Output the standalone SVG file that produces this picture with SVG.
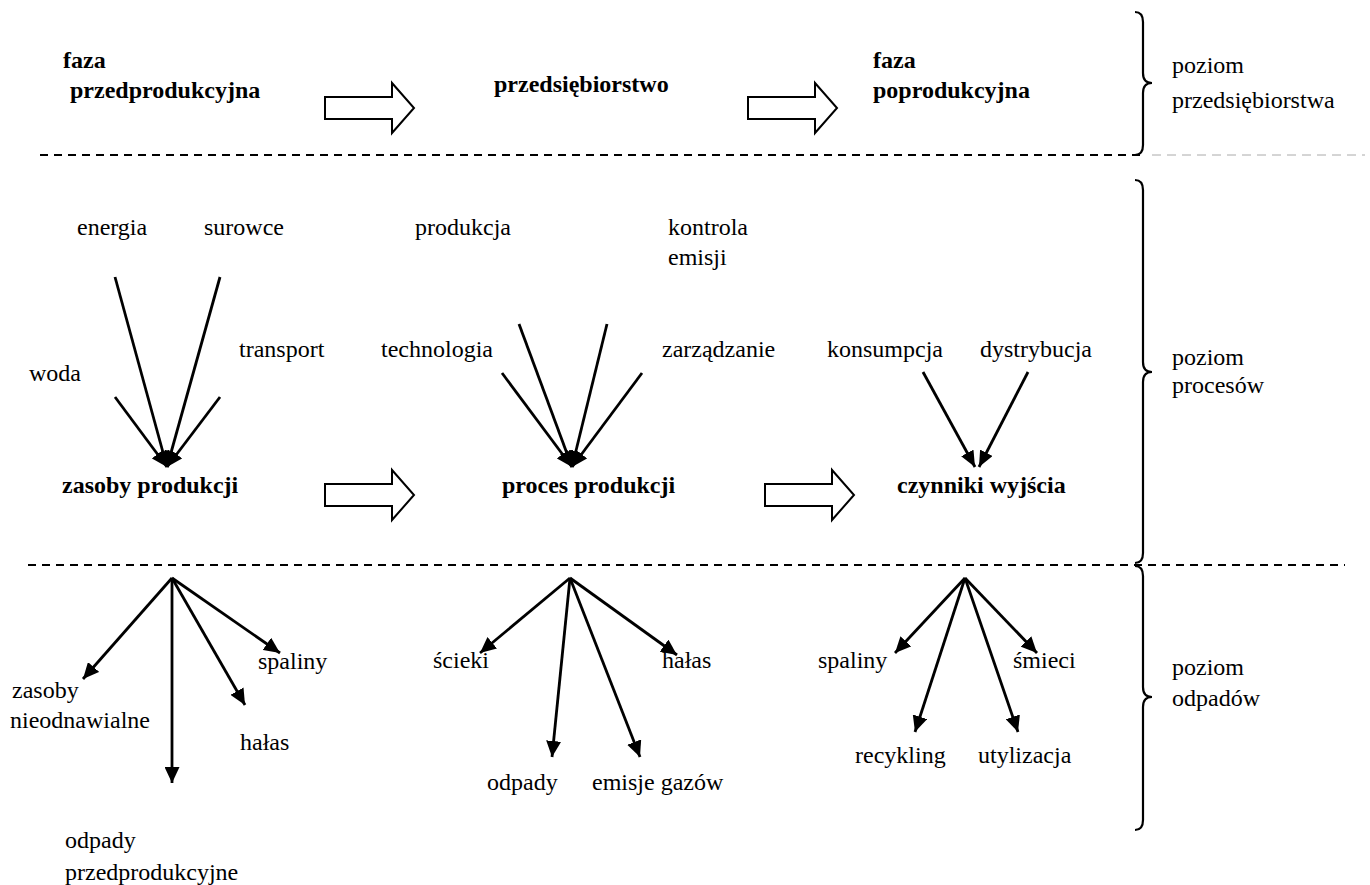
<svg xmlns="http://www.w3.org/2000/svg" width="1370" height="885" viewBox="0 0 1370 885">
<style>
text{font-family:"Liberation Serif","Times New Roman",serif;font-size:24px;fill:#000}
.b{font-weight:bold}
.blk{fill:#fff;stroke:#000;stroke-width:2}
.dash{stroke:#000;stroke-width:2;stroke-dasharray:8 6;fill:none}
.brace{fill:none;stroke:#000;stroke-width:2.2}
.ln{stroke:#000;stroke-width:2.8;fill:none}
</style>
<defs>
<marker id="ah" viewBox="0 0 16 15" refX="16" refY="7.5" markerWidth="16" markerHeight="15" markerUnits="userSpaceOnUse" orient="auto"><path d="M0,0 L16,7.5 L0,15 z" fill="#000"/></marker>
<marker id="ac" viewBox="0 0 16 14" refX="16" refY="7" markerWidth="16" markerHeight="14" markerUnits="userSpaceOnUse" orient="auto"><path d="M0,0 L16,7 L0,14 z" fill="#000"/></marker>
</defs>
<g id="separators">
<line class="dash" x1="40" y1="155" x2="1145" y2="155"/>
<line x1="1152" y1="155" x2="1365" y2="155" stroke="#aaa" stroke-width="1" stroke-dasharray="9 6"/>
<line class="dash" x1="28" y1="565" x2="1345" y2="565"/>
</g>
<g id="braces">
<path class="brace" d="M1135,12 Q1143,12 1143,22 L1143,73 Q1143,83 1152,83 Q1143,83 1143,93 L1143,145 Q1143,155 1135,155"/>
<path class="brace" d="M1135,180 Q1143,180 1143,190 L1143,362 Q1143,372 1152,372 Q1143,372 1143,382 L1143,553 Q1143,563 1135,563"/>
<path class="brace" d="M1135,566 Q1143,566 1143,576 L1143,687 Q1143,697 1152,697 Q1143,697 1143,707 L1143,820 Q1143,830 1135,830"/>
</g>
<g id="level-labels">
<text x="1172" y="73">poziom</text><text x="1172" y="108">przedsiębiorstwa</text>
<text x="1172" y="365">poziom</text><text x="1172" y="393">procesów</text>
<text x="1172" y="675">poziom</text><text x="1172" y="706">odpadów</text>
</g>
<g id="faza-przedprodukcyjna"><text class="b" x="63" y="68">faza</text><text class="b" x="70" y="98">przedprodukcyjna</text></g>
<g id="przedsiebiorstwo"><text class="b" x="494" y="92">przedsiębiorstwo</text></g>
<g id="faza-poprodukcyjna"><text class="b" x="873" y="68">faza</text><text class="b" x="873" y="98">poprodukcyjna</text></g>
<g id="zasoby-produkcji"><text class="b" x="62" y="493">zasoby produkcji</text></g>
<g id="proces-produkcji"><text class="b" x="502" y="493">proces produkcji</text></g>
<g id="czynniki-wyjscia"><text class="b" x="897" y="493">czynniki wyjścia</text></g>
<g id="inputs">
<text x="77" y="235">energia</text><text x="204" y="235">surowce</text>
<text x="29" y="381">woda</text><text x="239" y="357">transport</text>
<text x="415" y="235">produkcja</text><text x="668" y="235">kontrola</text><text x="668" y="265">emisji</text>
<text x="381" y="357">technologia</text><text x="662" y="357">zarządzanie</text>
<text x="827" y="357">konsumpcja</text><text x="980" y="357">dystrybucja</text>
</g>
<g id="outputs">
<text x="258" y="669">spaliny</text><text x="12" y="698">zasoby</text><text x="10" y="728">nieodnawialne</text>
<text x="240" y="750">hałas</text><text x="65" y="848">odpady</text><text x="65" y="880">przedprodukcyjne</text>
<text x="433" y="668">ścieki</text><text x="662" y="668">hałas</text>
<text x="487" y="790">odpady</text><text x="592" y="790">emisje gazów</text>
<text x="818" y="668">spaliny</text><text x="1013" y="668">śmieci</text>
<text x="855" y="763">recykling</text><text x="978" y="763">utylizacja</text>
</g>
<g id="block-arrows">
<polygon class="blk" points="325,97 392,97 392,83 414,108 392,133 392,119 325,119"/>
<polygon class="blk" points="748,97 815,97 815,83 837,108 815,133 815,119 748,119"/>
<polygon class="blk" points="325,484 392,484 392,470 414,495 392,520 392,506 325,506"/>
<polygon class="blk" points="765,484 832,484 832,470 854,495 832,520 832,506 765,506"/>
</g>
<g id="connectors">
<line class="ln" x1="115" y1="277" x2="167" y2="467" marker-end="url(#ac)"/>
<line class="ln" x1="220" y1="277" x2="167" y2="467" marker-end="url(#ac)"/>
<line class="ln" x1="115" y1="397" x2="167" y2="467" marker-end="url(#ac)"/>
<line class="ln" x1="220" y1="397" x2="167" y2="467" marker-end="url(#ac)"/>
<line class="ln" x1="519" y1="324" x2="572" y2="467" marker-end="url(#ac)"/>
<line class="ln" x1="607" y1="324" x2="572" y2="467" marker-end="url(#ac)"/>
<line class="ln" x1="502" y1="373" x2="572" y2="467" marker-end="url(#ac)"/>
<line class="ln" x1="642" y1="373" x2="572" y2="467" marker-end="url(#ac)"/>
<line class="ln" x1="923" y1="372" x2="975" y2="467" marker-end="url(#ac)"/>
<line class="ln" x1="1028" y1="372" x2="979" y2="467" marker-end="url(#ac)"/>
<line class="ln" x1="172" y1="578" x2="83" y2="679" marker-end="url(#ah)"/>
<line class="ln" x1="172" y1="578" x2="172" y2="783" marker-end="url(#ah)"/>
<line class="ln" x1="172" y1="578" x2="245" y2="705" marker-end="url(#ah)"/>
<line class="ln" x1="172" y1="578" x2="280" y2="653" marker-end="url(#ah)"/>
<line class="ln" x1="570" y1="578" x2="480" y2="653" marker-end="url(#ah)"/>
<line class="ln" x1="570" y1="578" x2="552" y2="757" marker-end="url(#ah)"/>
<line class="ln" x1="570" y1="578" x2="640" y2="757" marker-end="url(#ah)"/>
<line class="ln" x1="570" y1="578" x2="677" y2="655" marker-end="url(#ah)"/>
<line class="ln" x1="965" y1="578" x2="895" y2="653" marker-end="url(#ah)"/>
<line class="ln" x1="965" y1="578" x2="915" y2="732" marker-end="url(#ah)"/>
<line class="ln" x1="965" y1="578" x2="1018" y2="732" marker-end="url(#ah)"/>
<line class="ln" x1="965" y1="578" x2="1037" y2="653" marker-end="url(#ah)"/>
</g>
</svg>
